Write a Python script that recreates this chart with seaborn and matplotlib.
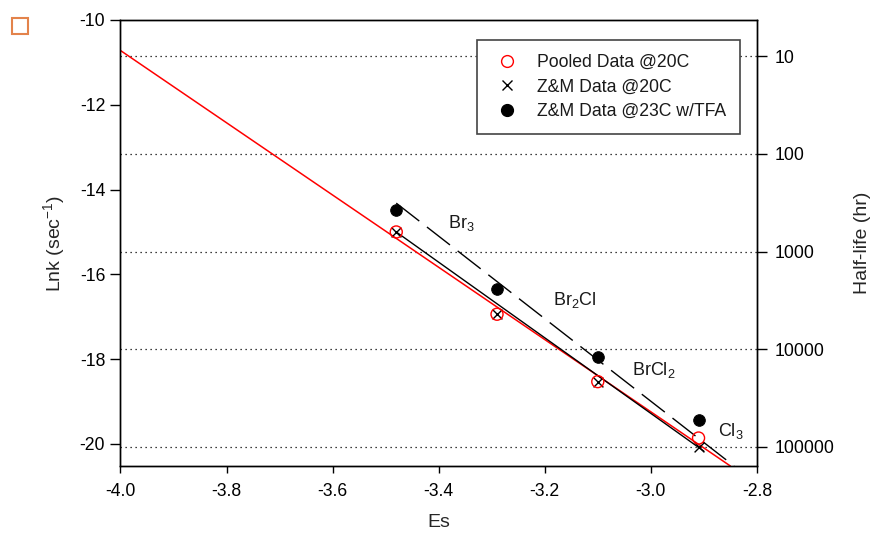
import numpy as np
import pandas as pd
import matplotlib
matplotlib.use("Agg")
import matplotlib.pyplot as plt
from matplotlib.lines import Line2D
from matplotlib.patches import Rectangle
import seaborn as sns

# Data
es = [-3.48, -3.29, -3.10, -2.91]
pooled_lnk = [-15.00, -16.94, -18.53, -19.86]
zm20_lnk = [-15.00, -16.94, -18.53, -20.07]
zm23_lnk = [-14.48, -16.35, -17.94, -19.43]
compound_labels = ["Br$_3$", "Br$_2$Cl", "BrCl$_2$", "Cl$_3$"]
label_x = [-3.383, -3.185, -3.036, -2.873]
label_y = [-14.80, -16.60, -18.25, -19.70]

# fitted lines (end points)
pooled_fit_x = [-4.0, -2.85]
pooled_fit_y = [-10.72, -20.52]
zm20_fit_x = [-3.48, -2.90]
zm20_fit_y = [-15.00, -20.17]
zm23_fit_x = [-3.48, -2.843]
zm23_fit_y = [-14.32, -20.52]

halflife_ticks = [10, 100, 1000, 10000, 100000]  # hr

sns.set_theme(style="ticks")
plt.rcParams.update({
    "font.family": ["Liberation Sans", "DejaVu Sans"],
    "font.size": 12.7,
    "mathtext.fontset": "custom",
    "mathtext.rm": "Liberation Sans",
    "mathtext.it": "Liberation Sans:italic",
    "axes.unicode_minus": False,
    "axes.linewidth": 1.0,
    "axes.edgecolor": "black",
    "xtick.color": "black",
    "ytick.color": "black",
    "text.color": "#1a1a1a",
})

df = pd.DataFrame({"es": es, "pooled": pooled_lnk, "zm20": zm20_lnk, "zm23": zm23_lnk})

fig = plt.figure(figsize=(8.73, 5.37), dpi=100)
ax = fig.add_axes([0.138, 0.1322, 0.729, 0.8306])

# half-life gridlines (lnk = ln(ln2 / t[s]))
hl_pos = [np.log(np.log(2) / (t * 3600.0)) for t in halflife_ticks]
for y in hl_pos:
    ax.axhline(y, color="black", lw=0.9, linestyle=(0, (1, 3)), zorder=1)

ax.plot(pooled_fit_x, pooled_fit_y, color="red", lw=1.1, zorder=2)
ax.plot(zm20_fit_x, zm20_fit_y, color="black", lw=1.0, zorder=2)
ax.plot(zm23_fit_x, zm23_fit_y, color="black", lw=1.0, dashes=(21, 7), zorder=2)

sns.scatterplot(data=df, x="es", y="zm23", ax=ax, marker="o", s=70,
                color="black", edgecolor="black", zorder=3, legend=False)
sns.scatterplot(data=df, x="es", y="zm20", ax=ax, marker="x", s=50,
                color="black", linewidth=1.0, zorder=4, legend=False)
sns.scatterplot(data=df, x="es", y="pooled", ax=ax, marker="o", s=75,
                facecolor="none", edgecolor="red", linewidth=1.0, zorder=5, legend=False)

for txt, x, y in zip(compound_labels, label_x, label_y):
    ax.text(x, y, txt, fontsize=13, ha="left", va="center")

xt = np.arange(-4.0, -2.79, 0.2)
ax.set_xlim(-4.0, -2.8)
ax.set_ylim(-20.52, -10)
ax.set_xticks(xt)
ax.set_xticklabels([f"{v:.1f}" for v in xt])
ax.set_yticks([-10, -12, -14, -16, -18, -20])
ax.tick_params(axis="y", direction="out", length=7, width=1, pad=4, labelsize=12.7)
ax.tick_params(axis="x", direction="out", length=5, width=1, pad=7, labelsize=12.7)
ax.set_xlabel("Es", fontsize=14, labelpad=10)
ax.set_ylabel("Lnk (sec$^{-1}$)", fontsize=14, labelpad=9)
for s in ax.spines.values():
    s.set_visible(True)
    s.set_color("black")

ax2 = ax.twinx()
ax2.set_ylim(ax.get_ylim())
ax2.set_yticks(hl_pos)
ax2.set_yticklabels([str(t) for t in halflife_ticks])
ax2.tick_params(axis="y", direction="out", length=7, width=1, pad=6, labelsize=12.7)
ax2.set_ylabel("Half-life (hr)", fontsize=14, labelpad=14)

handles = [
    Line2D([], [], marker="o", ls="none", mfc="none", mec="red", ms=8.5, mew=1.0),
    Line2D([], [], marker="x", ls="none", color="black", ms=7, mew=1.0),
    Line2D([], [], marker="o", ls="none", color="black", ms=8.5),
]
leg = ax.legend(handles, ["Pooled Data @20C", "Z&M Data @20C", "Z&M Data @23C w/TFA"],
                loc="upper right", bbox_to_anchor=(0.9733, 0.955), borderaxespad=0,
                fancybox=False, frameon=True, edgecolor="#444444", framealpha=1,
                fontsize=12.7, handletextpad=0.83, borderpad=0.8, labelspacing=0.42,
                handlelength=1.75)
leg.get_frame().set_linewidth(1.2)

fig.patches.append(Rectangle((12 / 873, 1 - 34 / 537), 16 / 873, 16 / 537,
                             transform=fig.transFigure, fill=False,
                             edgecolor="#e3834b", lw=1.5))

fig.savefig("out.png", dpi=100)
